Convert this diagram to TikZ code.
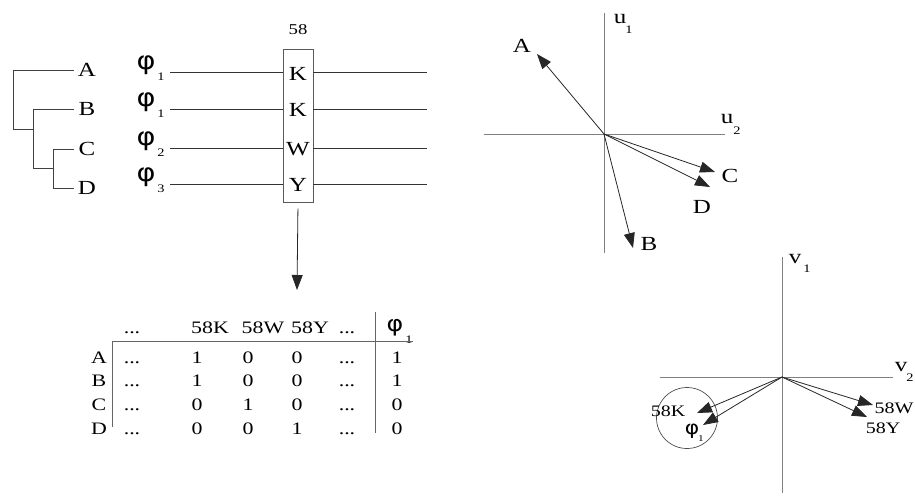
\documentclass[tikz,border=0pt]{standalone}
\usepackage{fontspec}
\setmainfont[FakeStretch=1.25]{Liberation Serif}
\newfontfamily\phifont[FakeStretch=1.15]{DejaVu Sans}
\usetikzlibrary{arrows.meta}
\newcommand\myphi{{\phifont φ}}
\newcommand\tdots{...}
\begin{document}
\begin{tikzpicture}[x=1pt,y=-1pt,
  lbl/.style={font=\fontsize{20}{24}\selectfont, inner sep=0pt},
  tl/.style={font=\fontsize{20}{24}\selectfont, inner sep=0pt, inner xsep=4pt},
  phl/.style={font=\fontsize{25}{28}\selectfont, inner sep=0pt},
  tlbl/.style={font=\fontsize{17.5}{20}\selectfont, inner sep=0pt, anchor=base},
  sub/.style={font=\fontsize{11.5}{13}\selectfont, inner sep=0pt},
  vlbl/.style={font=\fontsize{16}{20}\selectfont, inner sep=0pt},
  tree/.style={draw=black!75, line width=0.9pt},
  row/.style={draw=black!80, line width=0.9pt},
  axis/.style={draw=black!50, line width=1pt},
  vec/.style={draw=black!85, line width=0.8pt, -{Triangle[length=15pt,width=11pt]}},
]
\useasboundingbox (0,0) rectangle (915,496);

% ---------- tree ----------
\node[tl] (A) at (87,70) {A};
\node[tl] (B) at (87,109) {B};
\node[tl] (C) at (87,149) {C};
\node[tl] (D) at (87,188) {D};
\coordinate (r) at (13,129);
\coordinate (s) at (33,168);
\draw[tree] (A.west) -- (13,70) -- (r) -- (33,129);
\draw[tree] (B.west) -- (33,109) -- (s) -- (53,168);
\draw[tree] (C.west) -- (53,149) -- (53,188) -- (D.west);

% ---------- phi labels ----------
\foreach \n/\y/\s in {1/72/1,2/109/1,3/148/2,4/184/3}{
  \node[phl] (p\n) at (146,\y-7) {\myphi};
  \node[sub] (ps\n) at (161,\y+5) {\s};
}

% ---------- box ----------
\node[draw=black!65, line width=1pt, minimum width=30pt, minimum height=153pt, inner sep=0pt] (box) at (298,125.5) {};
\node[font=\fontsize{15}{18}\selectfont, inner sep=0pt] (n58) at (298,30) {58};
\node[lbl] (k1) at (298,74) {K};
\node[lbl] (k2) at (298,110) {K};
\node[lbl] (w) at (298,149) {W};
\node[lbl] (y) at (298,185) {Y};
\foreach \y in {72,109,148,184}{
  \draw[row] (170,\y) -- (283,\y);
  \draw[row] (313,\y) -- (427,\y);
}
\coordinate (arrEnd) at (297,290);
\draw[vec, shorten <=6pt] (box.south) -- (arrEnd);

% ---------- table ----------
\node[tlbl] (h1) at (132,333) {\tdots};
\node[tlbl] (h2) at (210,333) {58K};
\node[tlbl] (h3) at (263,333) {58W};
\node[tlbl] (h4) at (310,333) {58Y};
\node[tlbl] (h5) at (347,333) {\tdots};
\node[phl, font=\fontsize{22}{24}\selectfont] (tp) at (395,328) {\myphi};
\node[sub] (tps) at (409,340) {1};
\draw[row, draw=black!60] (112,341) -- (413,341);
\draw[row, draw=black!60] (112,341) -- (112,427);
\draw[row, draw=black!60] (375,312) -- (375,433);
\foreach \yb/\r/\a/\b/\c/\d in {363/A/1/0/0/1, 386/B/1/0/0/1, 410/C/0/1/0/0, 434/D/0/0/1/0}{
  \node[tlbl] at (99,\yb) {\r};
  \node[tlbl] at (132,\yb) {\tdots};
  \node[tlbl] at (197,\yb) {\a};
  \node[tlbl] at (248,\yb) {\b};
  \node[tlbl] at (297,\yb) {\c};
  \node[tlbl] at (347,\yb) {\tdots};
  \node[tlbl] at (397,\yb) {\d};
}

% ---------- u plot ----------
\coordinate (O) at (604,134);
\draw[axis] (604,13) -- (604,253);
\draw[axis] (484,134) -- (725,134);
\node[lbl] (u1) at (620,19) {u};
\node[sub] (u1s) at (629,30) {1};
\node[lbl] (u2) at (727,119) {u};
\node[sub] (u2s) at (737,131) {2};
\coordinate (tA) at (537,54);
\coordinate (tB) at (633,248);
\coordinate (tC) at (715,172);
\coordinate (tD) at (710,187);
\draw[vec] (O) -- (tA);
\draw[vec] (O) -- (tB);
\draw[vec] (O) -- (tC);
\draw[vec] (O) -- (tD);
\node[lbl] (lA) at (522,46) {A};
\node[lbl] (lB) at (649,244) {B};
\node[lbl] (lC) at (730,176) {C};
\node[lbl] (lD) at (702,207) {D};

% ---------- v plot ----------
\coordinate (O2) at (782,377);
\draw[axis] (782,257) -- (782,493);
\draw[axis] (660,377) -- (893,377);
\node[lbl] (v1) at (795,259) {v};
\node[sub] (v1s) at (807,269) {1};
\node[lbl] (v2) at (901,367) {v};
\node[sub] (v2s) at (910,378) {2};
\node[draw=black!70, line width=0.7pt, circle, minimum size=61pt, inner sep=0pt] (circ) at (687,418) {};
\coordinate (tK) at (697,413);
\coordinate (tP) at (703,425);
\coordinate (tW) at (873,405);
\coordinate (tY) at (867,417);
\draw[vec] (O2) -- (tK);
\draw[vec] (O2) -- (tP);
\draw[vec] (O2) -- (tW);
\draw[vec] (O2) -- (tY);
\node[vlbl] (l58K) at (668,411) {58K};
\node[phl, font=\fontsize{19}{20}\selectfont] (lphi) at (692,431) {\myphi};
\node[sub, font=\fontsize{9}{10}\selectfont] (lphis) at (701,439) {1};
\node[vlbl] (l58W) at (894,408) {58W};
\node[vlbl] (l58Y) at (883,428) {58Y};
\end{tikzpicture}
\end{document}
